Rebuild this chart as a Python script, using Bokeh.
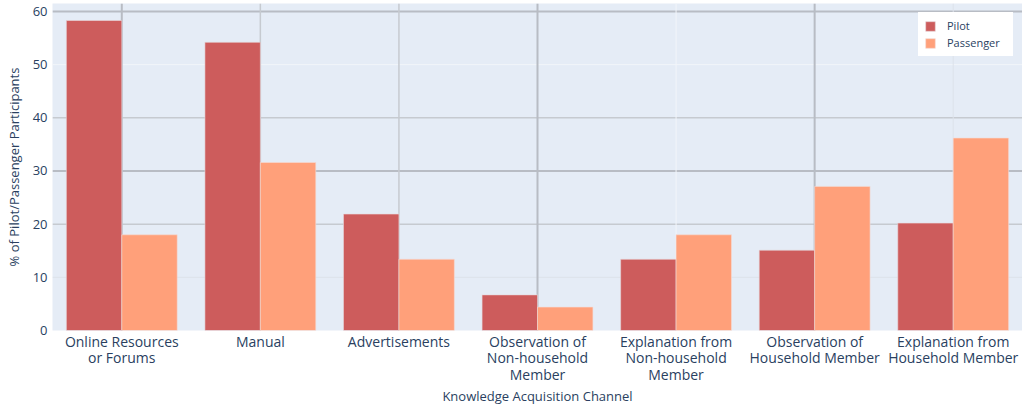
from bokeh.plotting import figure
from bokeh.models import ColumnDataSource, FactorRange, Span, Legend, LegendItem, Range1d
from bokeh.transform import dodge
from bokeh.embed import file_html
from bokeh.resources import INLINE

categories = [
    "Online Resources\nor Forums",
    "Manual",
    "Advertisements",
    "Observation of\nNon-household\nMember",
    "Explanation from\nNon-household\nMember",
    "Observation of\nHousehold Member",
    "Explanation from\nHousehold Member",
]
pilot = [58.3, 54.2, 21.9, 6.7, 13.4, 15.1, 20.2]
passenger = [18.0, 31.6, 13.4, 4.4, 18.0, 27.1, 36.2]
y_ticks = [0, 10, 20, 30, 40, 50, 60]

TEXT = "#2a3f5f"
FONT = "Open Sans"

source = ColumnDataSource(dict(cat=categories, pilot=pilot, passenger=passenger))

p = figure(
    x_range=FactorRange(*categories),
    y_range=Range1d(0, 61.5),
    width=1022, height=407,
    output_backend="svg", toolbar_location=None,
    min_border_left=52, min_border_right=0, min_border_top=3, min_border_bottom=76,
    background_fill_color="#E5ECF6", border_fill_color="white",
    outline_line_color=None,
)

# grid lines (uneven rendering as in the reference)
p.xgrid.visible = False
p.ygrid.visible = False
y_grid_style = {10: ("#dde2ea", 1), 20: ("#c6cad0", 1.5), 30: ("#b8bcc4", 2),
                40: ("#c6cad0", 1.5), 50: ("#f2f5fa", 1), 60: ("#b8bcc4", 2)}
for t in y_ticks:
    if t in y_grid_style:
        c, w = y_grid_style[t]
        p.add_layout(Span(location=t, dimension="width", line_color=c, line_width=w, level="underlay"))
x_grid_style = [("#b8bcc4", 2), ("#c6cad0", 1.5), ("#c6cad0", 1.5), ("#b8bcc4", 2),
                ("#f2f5fa", 1), ("#b8bcc4", 2), ("#dde2ea", 1)]
for i, _ in enumerate(categories):
    c, w = x_grid_style[i]
    p.add_layout(Span(location=i + 0.5, dimension="height", line_color=c, line_width=w, level="underlay"))

r1 = p.vbar(x=dodge("cat", -0.2, range=p.x_range), top="pilot", width=0.4, source=source,
            fill_color="#CD5C5C", line_color="#e8d8dc", line_width=0.6)
r2 = p.vbar(x=dodge("cat", 0.2, range=p.x_range), top="passenger", width=0.4, source=source,
            fill_color="#FFA07A", line_color="#f3dcd6", line_width=0.6)

legend = Legend(items=[LegendItem(label="Pilot", renderers=[r1]),
                       LegendItem(label="Passenger", renderers=[r2])],
                location="top_right")
legend.background_fill_color = "white"
legend.background_fill_alpha = 1
legend.border_line_alpha = 0
legend.label_text_font = FONT
legend.label_text_font_size = "11px"
legend.label_text_color = TEXT
legend.glyph_width = 12
legend.glyph_height = 12
legend.label_height = 14
legend.label_width = 60
legend.label_standoff = 11
legend.spacing = 2
legend.padding = 6
legend.margin = 9
p.add_layout(legend)

# axes
p.yaxis.ticker = y_ticks
p.yaxis.axis_line_color = None
p.yaxis.major_tick_line_color = None
p.yaxis.minor_tick_line_color = None
p.yaxis.major_tick_out = 0
p.yaxis.major_tick_in = 0
p.yaxis.minor_tick_out = 0
p.yaxis.major_label_text_font = FONT
p.yaxis.major_label_text_font_size = "13px"
p.yaxis.major_label_text_color = TEXT
p.yaxis.major_label_standoff = 5
p.yaxis.axis_label = "% of Pilot/Passenger Participants"
p.yaxis.axis_label_text_font = FONT
p.yaxis.axis_label_text_font_size = "13px"
p.yaxis.axis_label_text_font_style = "normal"
p.yaxis.axis_label_text_color = TEXT
p.yaxis.axis_label_standoff = 7

p.xaxis.axis_line_color = None
p.xaxis.major_tick_line_color = None
p.xaxis.minor_tick_line_color = None
p.xaxis.major_tick_out = 0
p.xaxis.major_tick_in = 0
p.xaxis.major_label_text_font = FONT
p.xaxis.major_label_text_font_size = "14px"
p.xaxis.major_label_text_line_height = 0.88
p.xaxis.major_label_text_color = TEXT
p.xaxis.major_label_standoff = 1
p.xaxis.axis_label = "Knowledge Acquisition Channel"
p.xaxis.axis_label_text_font = FONT
p.xaxis.axis_label_text_font_size = "13px"
p.xaxis.axis_label_text_font_style = "normal"
p.xaxis.axis_label_text_color = TEXT
p.xaxis.axis_label_standoff = 0

open("out.html", "w").write(file_html(p, INLINE))
